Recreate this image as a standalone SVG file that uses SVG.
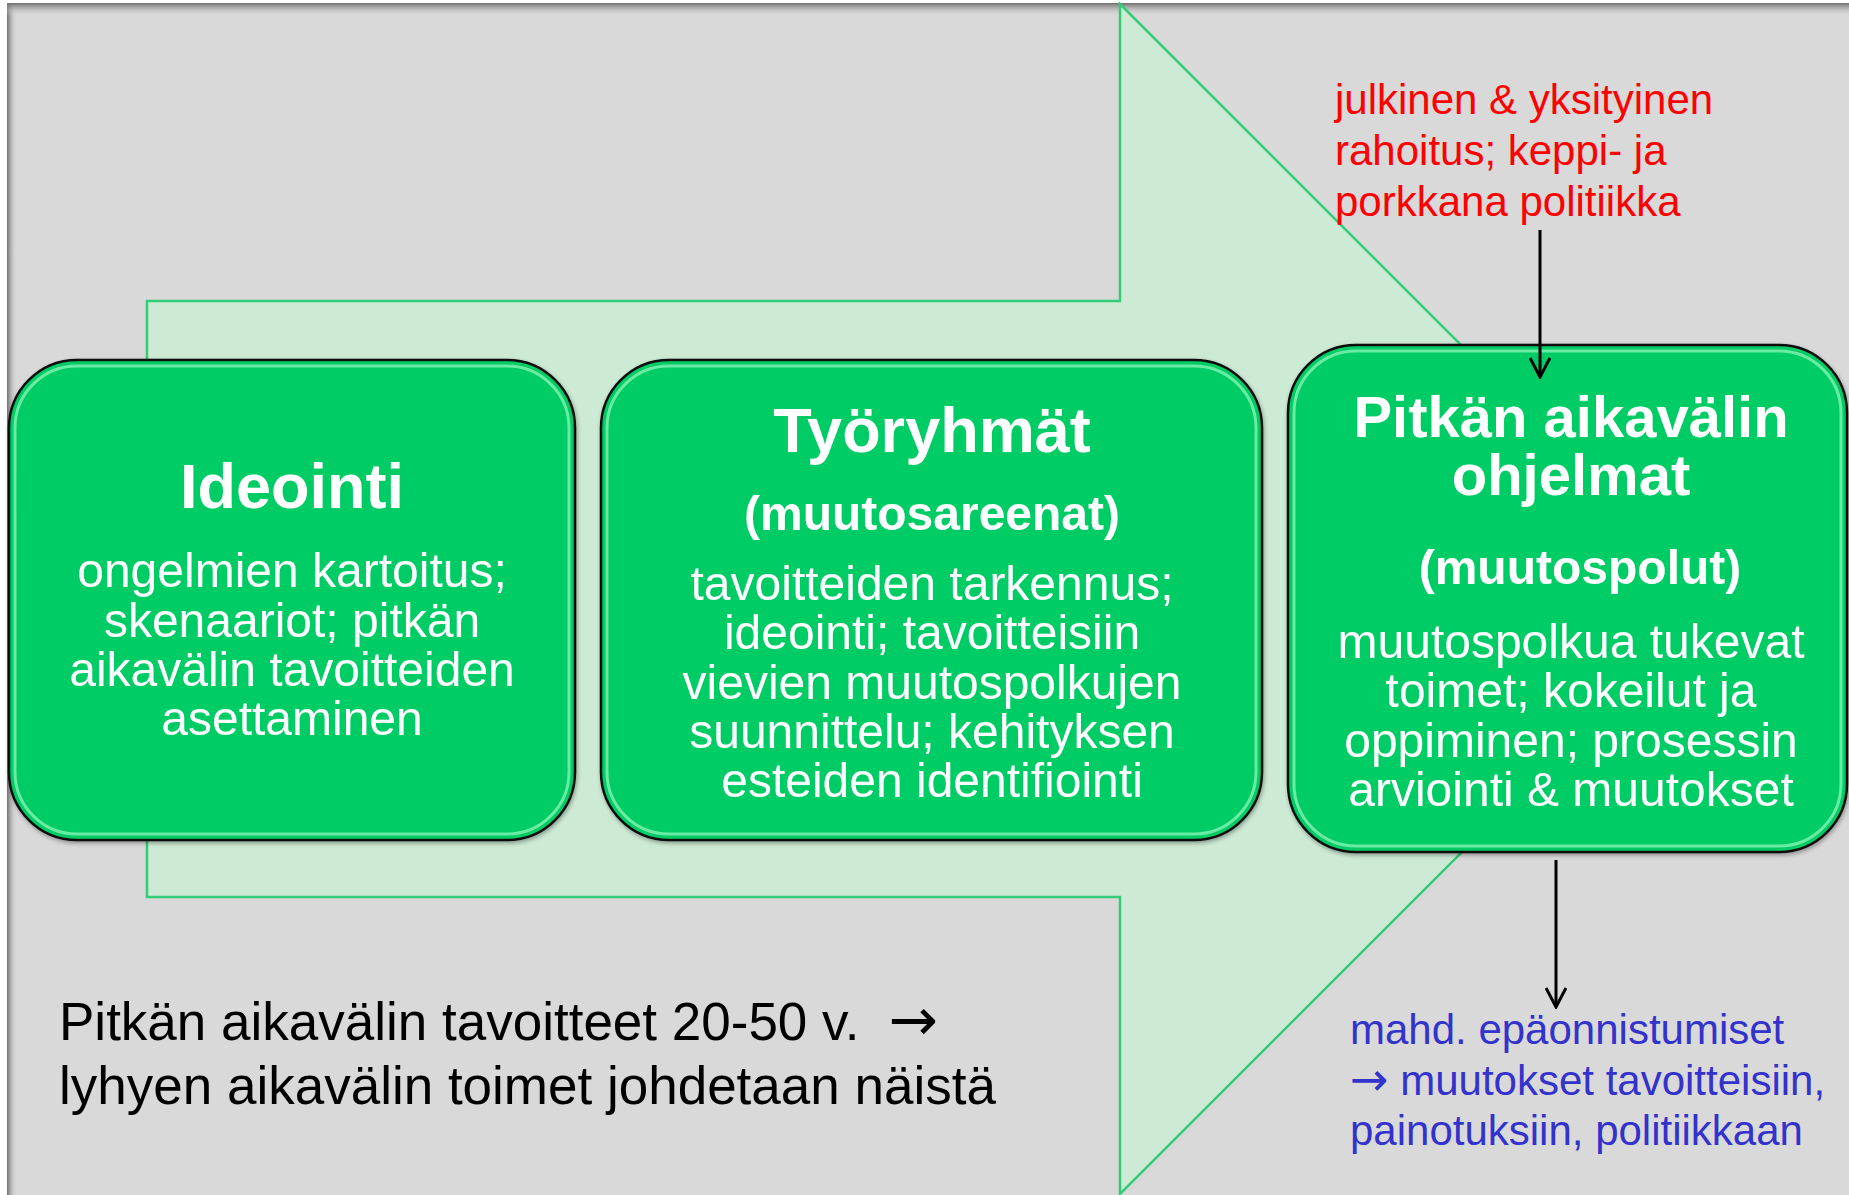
<svg xmlns="http://www.w3.org/2000/svg" width="1849" height="1195" viewBox="0 0 1849 1195">
<style>
.box{fill:#00cc66;stroke:#111;stroke-width:2.5}
.gloss{fill:none;stroke:#8ff5b8;stroke-width:3;opacity:0.75}
.title{font-family:"Liberation Sans",Arial,sans-serif;font-weight:bold;fill:#fff;text-anchor:middle}
.body{font-family:"Liberation Sans",Arial,sans-serif;font-size:48px;fill:#fff;text-anchor:middle}
.note{font-family:"Liberation Sans",Arial,sans-serif;font-size:42px}
.arr{font-family:"DejaVu Sans",sans-serif}
.conn{stroke:#000;stroke-width:3;fill:none}
</style>
<defs>
<linearGradient id="lsh" x1="0" y1="0" x2="1" y2="0">
<stop offset="0" stop-color="#6e6e6e"/><stop offset="1" stop-color="#d9d9d9" stop-opacity="0"/>
</linearGradient>
<linearGradient id="tsh" x1="0" y1="0" x2="0" y2="1">
<stop offset="0" stop-color="#6e6e6e"/><stop offset="1" stop-color="#d9d9d9" stop-opacity="0"/>
</linearGradient>
<filter id="ds" x="-5%" y="-5%" width="110%" height="110%">
<feDropShadow dx="1" dy="2" stdDeviation="2" flood-color="#000" flood-opacity="0.35"/>
</filter>
<marker id="ah" viewBox="0 0 22 22" refX="20" refY="11" markerWidth="22" markerHeight="22" markerUnits="userSpaceOnUse" orient="auto">
<path d="M1,1 L20,11 L1,21" fill="none" stroke="#000" stroke-width="3"/>
</marker>
</defs>
<rect x="0" y="0" width="1849" height="1195" fill="#fff"/>
<rect x="7" y="3" width="1842" height="1192" fill="#d9d9d9"/>
<rect x="7" y="3" width="10" height="1192" fill="url(#lsh)"/>
<rect x="7" y="3" width="1842" height="13" fill="url(#tsh)"/>

<g id="big-arrow">
<polygon points="147,301 1120,301 1120,4 1715,599 1120,1194 1120,897 147,897" fill="#cdead4" stroke="#33cc77" stroke-width="2.5"/>
</g>

<g id="node-ideointi" filter="url(#ds)">
<rect class="box" x="9" y="360" width="566" height="480" rx="68" ry="68"/>
<rect class="gloss" x="15" y="366" width="554" height="468" rx="62" ry="62"/>
<text class="title" x="292" y="508" font-size="63">Ideointi</text>
<text class="body" x="292" y="587">ongelmien kartoitus;</text>
<text class="body" x="292" y="637">skenaariot; pitkän</text>
<text class="body" x="292" y="686">aikavälin tavoitteiden</text>
<text class="body" x="292" y="735">asettaminen</text>
</g>

<g id="node-tyoryhmat" filter="url(#ds)">
<rect class="box" x="601" y="360" width="661" height="480" rx="68" ry="68"/>
<rect class="gloss" x="607" y="366" width="649" height="468" rx="62" ry="62"/>
<text class="title" x="932" y="452" font-size="63">Työryhmät</text>
<text class="title" x="932" y="530" font-size="48">(muutosareenat)</text>
<text class="body" x="932" y="600">tavoitteiden tarkennus;</text>
<text class="body" x="932" y="649">ideointi; tavoitteisiin</text>
<text class="body" x="932" y="699">vievien muutospolkujen</text>
<text class="body" x="932" y="748">suunnittelu; kehityksen</text>
<text class="body" x="932" y="797">esteiden identifiointi</text>
</g>

<g id="node-ohjelmat" filter="url(#ds)">
<rect class="box" x="1288" y="345" width="559" height="507" rx="68" ry="68"/>
<rect class="gloss" x="1294" y="351" width="547" height="495" rx="62" ry="62"/>
<text class="title" x="1571" y="437" font-size="58">Pitkän aikavälin</text>
<text class="title" x="1571" y="495" font-size="58">ohjelmat</text>
<text class="title" x="1580" y="584" font-size="48">(muutospolut)</text>
<text class="body" x="1571" y="658">muutospolkua tukevat</text>
<text class="body" x="1571" y="707">toimet; kokeilut ja</text>
<text class="body" x="1571" y="757">oppiminen; prosessin</text>
<text class="body" x="1571" y="806">arviointi &amp; muutokset</text>
</g>

<g id="note-rahoitus" class="note" fill="#ff0000">
<text x="1335" y="114">julkinen &amp; yksityinen</text>
<text x="1335" y="165">rahoitus; keppi- ja</text>
<text x="1335" y="216">porkkana politiikka</text>
</g>

<g id="note-epaonnistumiset" class="note" fill="#3333cc">
<text x="1350" y="1044">mahd. epäonnistumiset</text>
<text x="1350" y="1095"><tspan class="arr" font-size="46">→</tspan> muutokset tavoitteisiin,</text>
<text x="1350" y="1145">painotuksiin, politiikkaan</text>
</g>

<g id="note-tavoitteet" font-family="'Liberation Sans',Arial,sans-serif" font-size="53" fill="#000">
<text x="59" y="1040" xml:space="preserve">Pitkän aikavälin tavoitteet 20-50 v.  <tspan class="arr" font-size="59">→</tspan></text>
<text x="59" y="1104">lyhyen aikavälin toimet johdetaan näistä</text>
</g>

<g id="connectors">
<line class="conn" x1="1540" y1="230" x2="1540" y2="377" marker-end="url(#ah)"/>
<line class="conn" x1="1556" y1="860" x2="1556" y2="1007" marker-end="url(#ah)"/>
</g>
</svg>
